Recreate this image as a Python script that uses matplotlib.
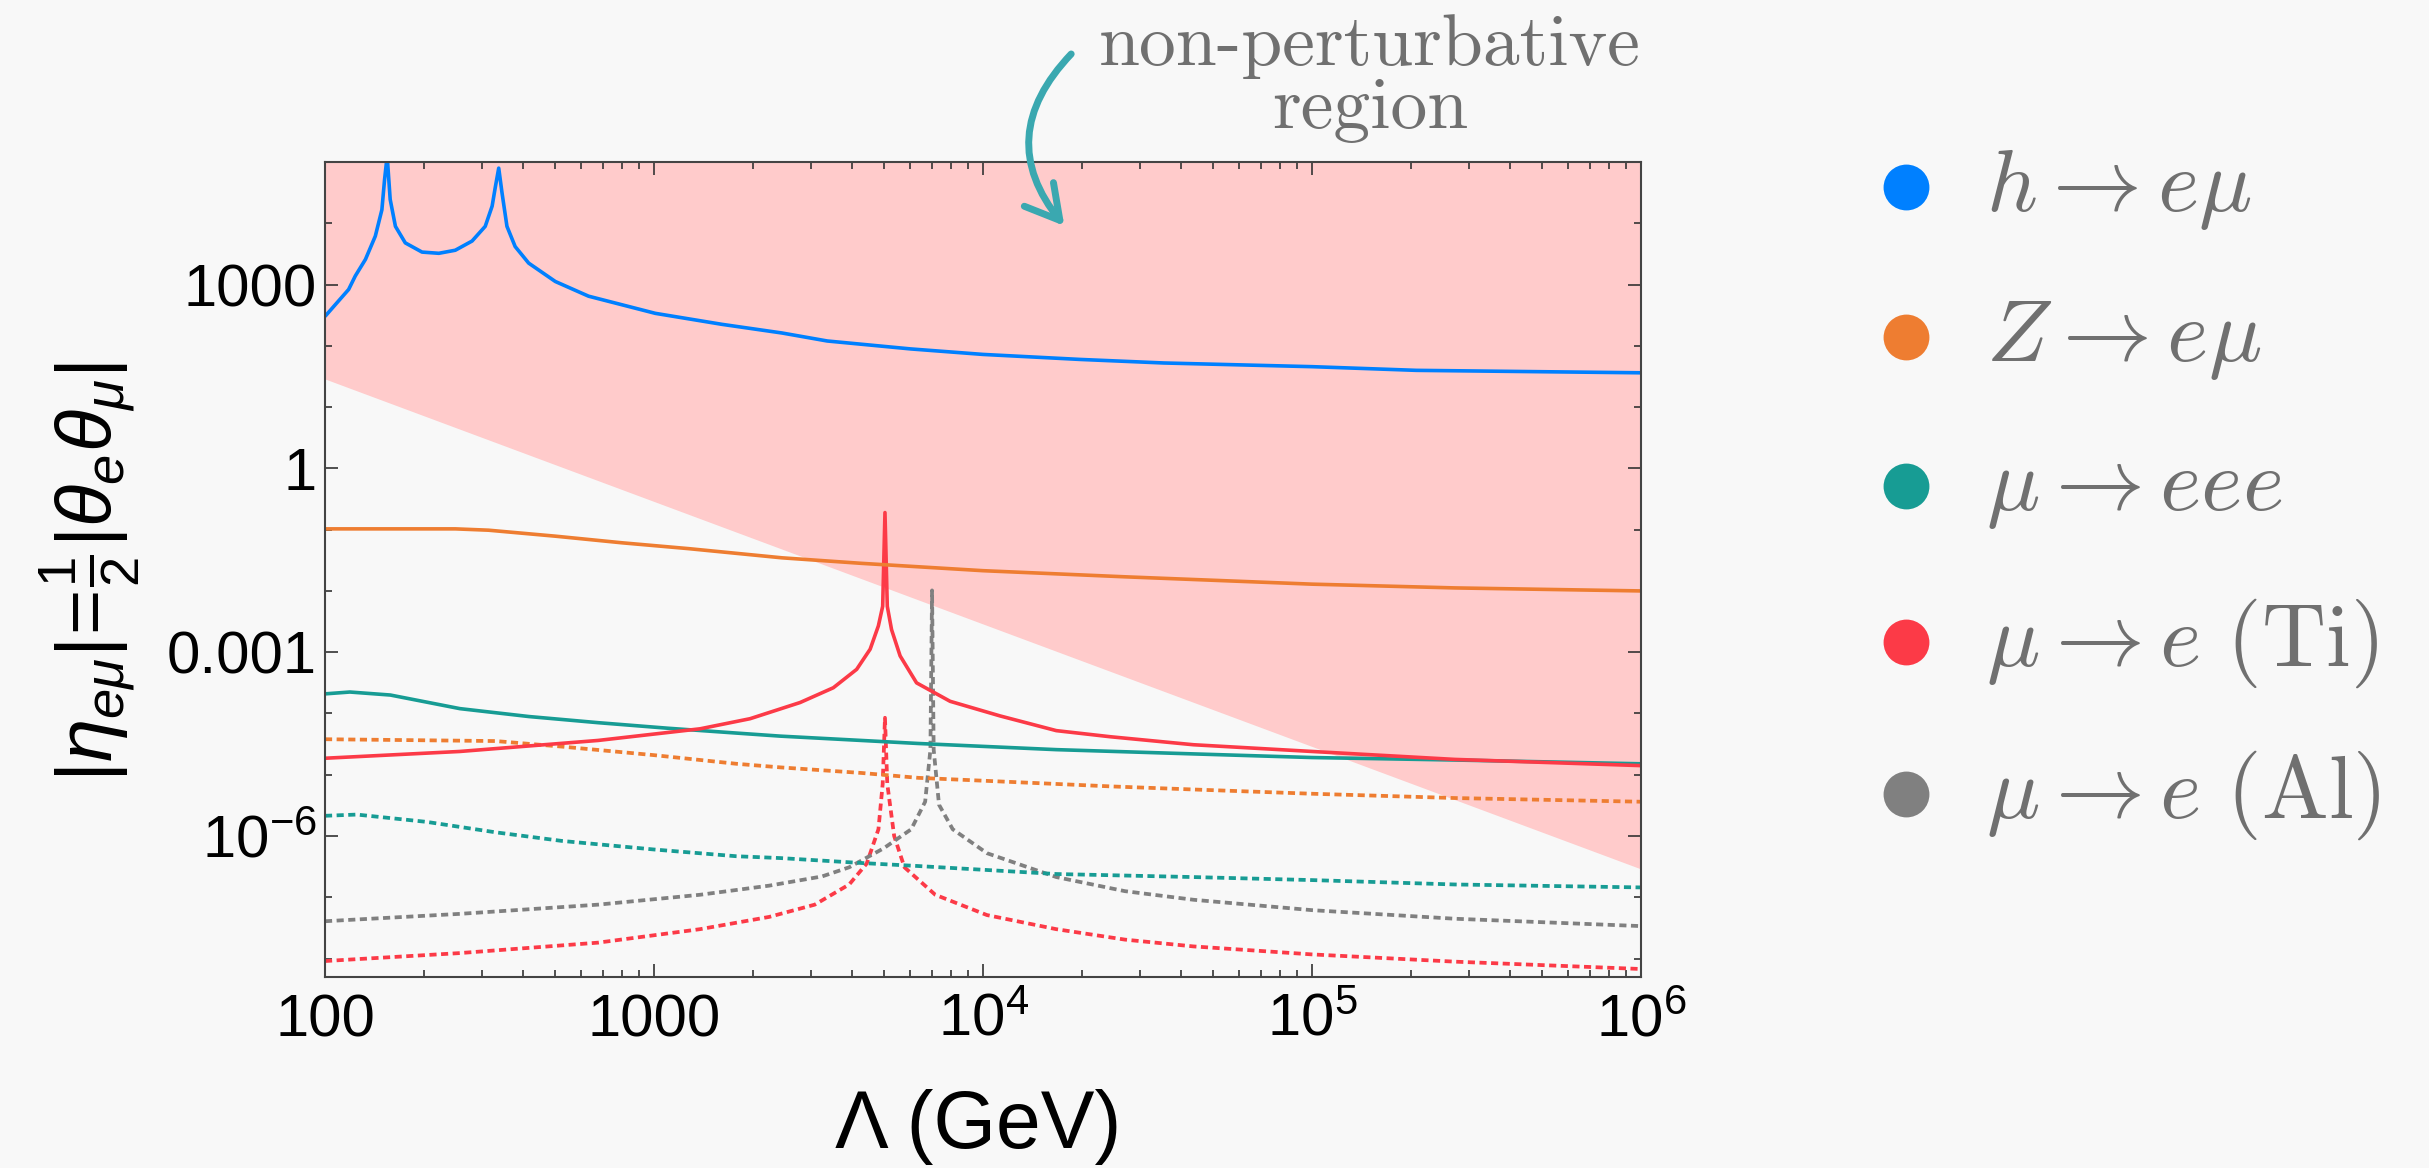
import numpy as np
import matplotlib
matplotlib.use("Agg")
import matplotlib.pyplot as plt
from matplotlib.lines import Line2D
from matplotlib.patches import FancyArrowPatch, ArrowStyle
from matplotlib.ticker import FixedLocator, FixedFormatter, NullFormatter

plt.rcParams['font.family'] = ['Liberation Sans', 'DejaVu Sans']
plt.rcParams['mathtext.fontset'] = 'custom'
plt.rcParams['mathtext.rm'] = 'Liberation Sans'
plt.rcParams['mathtext.it'] = 'Liberation Sans:italic'
plt.rcParams['mathtext.bf'] = 'Liberation Sans:bold'

# ---- data (Lambda in GeV, |eta_emu|) ----
bound_x = [100, 1e6]
bound_y = [28.8, 2.9e-7]

h_x = [100, 107.4, 118, 123.6, 132.7, 142.2, 148.9, 151.7, 154.5, 157.8, 163.7, 175.4, 197.2,
       221.8, 248.9, 279.9, 306.9, 322.1, 329.6, 337.3, 345.1, 357.3, 378.4, 415.9, 501.2,
       632.4, 1009, 1611, 2449, 3360, 6030, 1e4, 19700, 35400, 1e5, 207500, 1e6]
h_y = [302, 468, 832, 1380, 2570, 6166, 16596, 51286, 125893, 24547, 8913, 4786, 3388,
       3236, 3631, 5129, 8913, 19055, 39811, 79433, 31623, 8913, 4169, 2239, 1122,
       646, 339, 224, 162, 120, 89, 72.4, 60, 52.5, 45.7, 39.8, 36.3]

z_x = [100, 249, 314, 501, 800, 1274, 2449, 4270, 1e4, 27000, 1e5, 271600, 1e6]
z_y = [0.103, 0.103, 0.098, 0.0783, 0.061, 0.049, 0.0347, 0.0282, 0.0214, 0.0170, 0.0129,
       0.0112, 0.0100]

eee_x = [100, 119, 158, 257, 417, 676, 1100, 1780, 2420, 4270, 6350, 16700, 43600, 1e5,
         271600, 1e6]
eee_y = [2.09e-4, 2.24e-4, 2.00e-4, 1.20e-4, 8.91e-5, 7.08e-5, 5.75e-5, 4.79e-5, 4.27e-5,
         3.63e-5, 3.24e-5, 2.57e-5, 2.19e-5, 1.91e-5, 1.74e-5, 1.51e-5]

ti_x = [100, 257, 676, 1380, 1959, 2780, 3508, 4130, 4539, 4808, 4955, 5035, 5117, 5272,
        5598, 6281, 7943, 11272, 16700, 24400, 43600, 1e5, 271600, 1e6]
ti_y = [1.86e-5, 2.40e-5, 3.63e-5, 5.62e-5, 8.22e-5, 1.51e-4, 2.63e-4, 5.25e-4, 1.12e-3,
        2.69e-3, 5.62e-3, 0.19, 5.62e-3, 2.34e-3, 8.71e-4, 3.16e-4, 1.58e-4, 9.12e-5,
        5.25e-5, 4.17e-5, 3.09e-5, 2.40e-5, 1.78e-5, 1.41e-5]

# future sensitivities (dotted)
z_fut_x = [100, 330, 525, 1000, 1780, 2420, 4270, 6350, 16700, 24400, 43600, 1e5, 271600, 1e6]
z_fut_y = [3.80e-5, 3.55e-5, 2.88e-5, 2.09e-5, 1.51e-5, 1.32e-5, 1.07e-5, 8.91e-6, 7.08e-6,
           6.46e-6, 5.75e-6, 4.90e-6, 4.17e-6, 3.63e-6]

eee_fut_x = [100, 125, 204, 330, 525, 1000, 1780, 2420, 4270, 6350, 16700, 43600, 1e5,
             271600, 1e6]
eee_fut_y = [2.14e-6, 2.24e-6, 1.70e-6, 1.15e-6, 8.32e-7, 6.03e-7, 4.68e-7, 4.37e-7, 3.63e-7,
             3.24e-7, 2.40e-7, 2.14e-7, 1.91e-7, 1.62e-7, 1.45e-7]

al_fut_x = [100, 257, 676, 1380, 2240, 3240, 3920, 4990, 6050, 6670, 6920, 7000, 7080, 7350,
            8090, 10280, 16700, 27000, 43600, 1e5, 271600, 1e6]
al_fut_y = [4.07e-8, 5.37e-8, 7.59e-8, 1.10e-7, 1.55e-7, 2.19e-7, 3.09e-7, 6.31e-7, 1.29e-6,
            3.63e-6, 2.57e-5, 1.02e-2, 2.57e-5, 3.24e-6, 1.29e-6, 5.25e-7, 2.14e-7, 1.26e-7,
            9.12e-8, 6.17e-8, 4.47e-8, 3.39e-8]

ti_fut_x = [100, 257, 676, 1380, 2240, 3080, 3920, 4430, 4810, 4955, 5035, 5117, 5370, 5770,
            7160, 10280, 16700, 27000, 43600, 1e5, 271600, 1e6]
ti_fut_y = [9.12e-9, 1.23e-8, 1.82e-8, 3.02e-8, 4.79e-8, 7.59e-8, 1.62e-7, 3.55e-7, 1.29e-6,
            7.08e-6, 8.51e-5, 7.08e-6, 1.0e-6, 3.09e-7, 1.10e-7, 5.13e-8, 3.02e-8, 2.04e-8,
            1.58e-8, 1.17e-8, 8.91e-9, 6.76e-9]

legend_labels = [r'$h\rightarrow e\mu$', r'$Z\rightarrow e\mu$', r'$\mu\rightarrow eee$',
                 r'$\mu\rightarrow e\ (\mathrm{Ti})$', r'$\mu\rightarrow e\ (\mathrm{Al})$']
legend_colors = ['#0080ff', '#ee7d31', '#179c94', '#fc3a47', '#808080']

xticks = [100, 1e3, 1e4, 1e5, 1e6]
xticklabels = ['100', '1000', r'$10^4$', r'$10^5$', r'$10^6$']
yticks = [1e-6, 1e-3, 1, 1e3]
yticklabels = [r'$10^{-6}$', '0.001', '1', '1000']

BG = '#f8f8f8'
blue, orange, teal, red, gray = legend_colors

fig = plt.figure(figsize=(24.29, 11.68), dpi=100, facecolor=BG)
ax = fig.add_axes([0.1338, 0.1635, 0.5418, 0.6978])
ax.set_facecolor(BG)
ax.set_xscale('log')
ax.set_yscale('log')
ax.set_xlim(100, 1e6)
ax.set_ylim(5e-9, 1e5)

# non-perturbative region
ax.fill_between(bound_x, bound_y, [1e7, 1e7], color='#ffcbcb', lw=0, zorder=1)

solid = dict(lw=2.6, solid_capstyle='butt', solid_joinstyle='round', zorder=3)
dot = dict(lw=2.7, ls=(0, (1.9, 1.2)), zorder=3)
ax.plot(ti_fut_x, ti_fut_y, color=red, **dot)
ax.plot(al_fut_x, al_fut_y, color=gray, **dot)
ax.plot(eee_fut_x, eee_fut_y, color=teal, **dot)
ax.plot(z_fut_x, z_fut_y, color=orange, **dot)
ax.plot(eee_x, eee_y, color=teal, **solid)
ax.plot(ti_x, ti_y, color=red, **solid)
ax.plot(z_x, z_y, color=orange, **solid)
ax.plot(h_x, h_y, color=blue, **solid)

# ticks
ax.xaxis.set_major_locator(FixedLocator(xticks))
ax.xaxis.set_major_formatter(FixedFormatter(xticklabels))
xminor = [m * 10.0 ** k for k in range(2, 6) for m in range(2, 10)]
ax.xaxis.set_minor_locator(FixedLocator(xminor))
ax.xaxis.set_minor_formatter(NullFormatter())
ax.yaxis.set_major_locator(FixedLocator(yticks))
ax.yaxis.set_major_formatter(FixedFormatter(yticklabels))
ax.yaxis.set_minor_locator(FixedLocator([10.0 ** k for k in range(-8, 5)]))
ax.yaxis.set_minor_formatter(NullFormatter())
ax.tick_params(which='both', direction='in', top=True, right=True, color='#333333', width=1.2)
ax.tick_params(which='major', length=9.5, labelsize=43)
ax.tick_params(which='minor', length=5)
ax.tick_params(axis='x', which='major', pad=12)
ax.tick_params(axis='y', which='major', pad=6)
for s in ax.spines.values():
    s.set_color('#444444')
    s.set_linewidth(1.5)
    s.set_zorder(5)

fig.text(0.4026, 0.035, 'Λ (GeV)', fontsize=58, ha='center', va='center')
fig.text(0.037, 0.51, r'$|\eta_{e\mu}|\!=\!\frac{1}{2}|\theta_e\theta_\mu|$', fontsize=56,
         rotation=90, ha='center', va='center')

# annotation
fig.text(0.564, 0.9444, 'non-perturbative', family='cmr10', fontsize=53, color='#707070',
         ha='center', va='baseline')
fig.text(0.564, 0.8904, 'region', family='cmr10', fontsize=53, color='#707070',
         ha='center', va='baseline')
arrow = FancyArrowPatch((0.4418, 0.9555), (0.4389, 0.8048), transform=fig.transFigure,
                        connectionstyle='arc3,rad=0.45',
                        arrowstyle=ArrowStyle('->', head_length=0.8, head_width=0.45),
                        mutation_scale=30, lw=5, color='#3aa8b0', capstyle='round')
fig.add_artist(arrow)

# legend
dot_y = [187, 337, 486, 642, 794]
for lab, col, yy in zip(legend_labels, legend_colors, dot_y):
    yf = 1 - yy / 1168
    fig.add_artist(Line2D([0.7845], [yf], transform=fig.transFigure, marker='o', ms=33,
                          color=col, mec='none', ls='none'))
    fig.text(0.8176, yf - 24 / 1168, lab, fontsize=64, color='#707070', ha='left',
             va='baseline', math_fontfamily='cm')

fig.savefig('out.png', dpi=100, facecolor=BG)
